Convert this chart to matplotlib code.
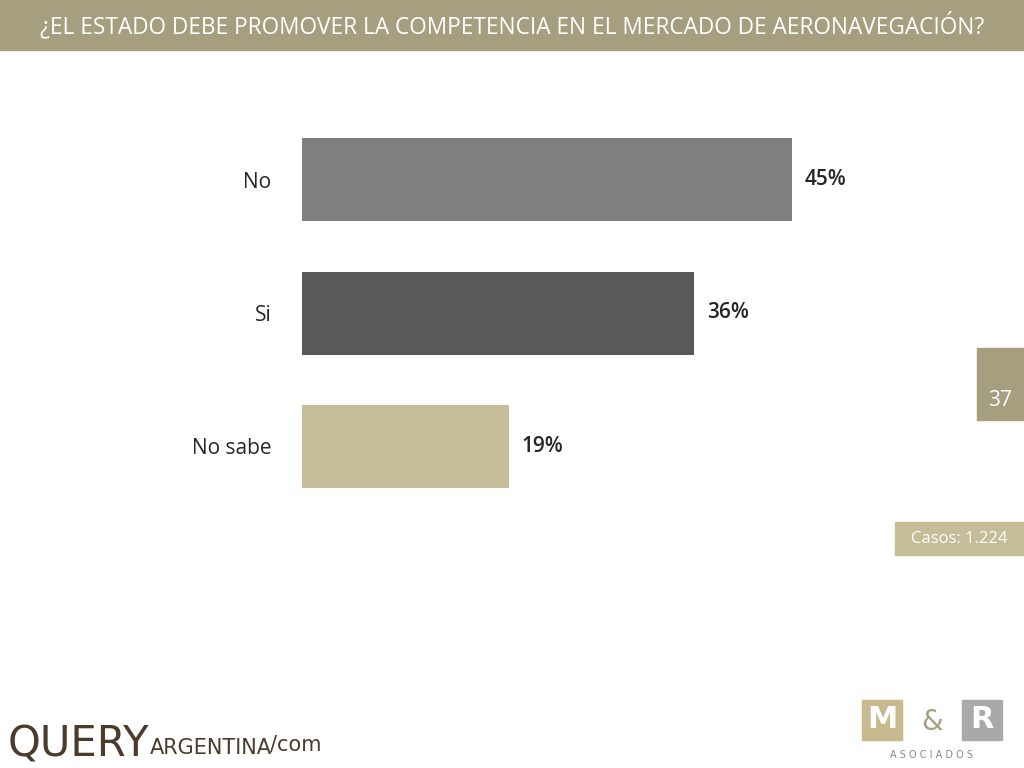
import matplotlib
matplotlib.use("Agg")
import matplotlib.pyplot as plt
from matplotlib.patches import Rectangle

categories = ["No", "Si", "No sabe"]
values = [45, 36, 19]
labels = ["45%", "36%", "19%"]
colors = ["#7F7F7F", "#595959", "#C4BD97"]

W, H = 1024, 768
fig = plt.figure(figsize=(W/100, H/100), dpi=100)
fig.patch.set_facecolor("white")

fig.patches.append(Rectangle((0, 1-50/H), 1, 50/H, transform=fig.transFigure, color="#A59F80", zorder=0))
fig.text(0.5, 1-25/H, "¿EL ESTADO DEBE PROMOVER LA COMPETENCIA EN EL MERCADO DE AERONAVEGACIÓN?",
         ha="center", va="center", color="white", fontsize=16.3, family="Open Sans")

fig.patches.append(Rectangle((977/W, 1-420/H), 47/W, 72/H, transform=fig.transFigure, color="#A59F80"))
fig.text(1000/W, 1-400/H, "37", ha="center", va="center", color="white", fontsize=15, family="Open Sans")
fig.patches.append(Rectangle((895/W, 1-555/H), 129/W, 33/H, transform=fig.transFigure, color="#C4BD97"))
fig.text(959/W, 1-539/H, "Casos: 1.224", ha="center", va="center", color="white", fontsize=12, family="Open Sans")

ax = fig.add_axes([302/W, 1-488/H, 653/W, 350/H])
ypos = [0, 1, 2]
ax.barh(ypos, values, height=83/133.5, color=colors)
ax.set_xlim(0, 60)
ax.set_ylim(2 + 83/133.5/2, 0 - 83/133.5/2)
for y, v, l in zip(ypos, values, labels):
    ax.text(v + 1.2, y, l, va="center", ha="left", fontsize=15, color="#262626",
            family="Open Sans", fontweight="semibold")
ax.set_yticks(ypos)
ax.set_yticklabels(categories, fontsize=15, color="#262626", family="Open Sans")
ax.tick_params(axis="y", length=0, pad=22)
ax.set_xticks([])
for s in ax.spines.values():
    s.set_visible(False)

fig.text(8/W, 1-745/H, "QUERY", fontsize=30, color="#4a3b2a", va="center", ha="left", family="DejaVu Sans")
fig.text(150/W, 1-748/H, "ARGENTINA", fontsize=15, color="#4a3b2a", va="center", ha="left", family="DejaVu Sans")
fig.text(270/W, 1-745/H, "/com", fontsize=15, color="#4a3b2a", va="center", ha="left", family="DejaVu Sans")
fig.patches.append(Rectangle((862/W, 1-740/H), 40/W, 40/H, transform=fig.transFigure, color="#C9B98E"))
fig.patches.append(Rectangle((962/W, 1-740/H), 40/W, 40/H, transform=fig.transFigure, color="#A9A9A9"))
fig.text(882/W, 1-720/H, "M", fontsize=22, color="white", ha="center", va="center", fontweight="bold")
fig.text(932/W, 1-722/H, "&", fontsize=20, color="#A59F80", ha="center", va="center")
fig.text(982/W, 1-720/H, "R", fontsize=22, color="white", ha="center", va="center", fontweight="bold")
fig.text(932/W, 1-755/H, "A S O C I A D O S", fontsize=7, color="#888888", ha="center", va="center")

fig.savefig("out.png", dpi=100)
